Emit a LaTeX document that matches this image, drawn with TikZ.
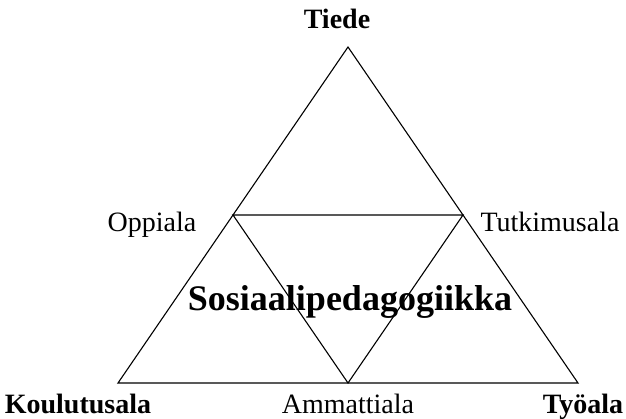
\documentclass[tikz,border=0pt]{standalone}
\usepackage{fontspec}
\setmainfont{Liberation Serif}
\usetikzlibrary{positioning}

\begin{document}
\begin{tikzpicture}[x=1pt, y=-1pt, line width=1.1pt,
    corner/.style={font=\fontsize{28}{30}\selectfont\bfseries, anchor=base},
    side/.style={font=\fontsize{28}{30}\selectfont, anchor=base},
    centre/.style={font=\fontsize{36}{40}\selectfont\bfseries, anchor=base}]
    \useasboundingbox (0,0) rectangle (626,418);

    % OUTER CORNERS
    \coordinate (TIEDE_POINT) at (348,47);
    \coordinate (KOULUTUS_POINT) at (118,383);
    \coordinate (TYO_POINT) at (578,383);

    % INNER CORNERS
    \coordinate (OPPI_POINT) at (233,215);
    \coordinate (TUTKIMUS_POINT) at (463,215);
    \coordinate (AMMATTI_POINT) at (348,383);

    % LABELS
    \node[corner] (TIEDE) at (337,28) {Tiede};
    \node[corner] (KOULUTUSALA) at (78,413) {Koulutusala};
    \node[side] (AMMATTIALA) at (348,413) {Ammattiala};
    \node[corner] (TYOALA) at (583,413) {Työala};
    \node[side] (OPPIALA) at (152,231) {Oppiala};
    \node[side] (TUTKIMUSALA) at (550,231) {Tutkimusala};
    \node[centre] (SOSIAALIPEDAGOGIIKKA) at (350,310) {Sosiaalipedagogiikka};

    % LINES
    \draw (TIEDE_POINT) -- (KOULUTUS_POINT) -- (TYO_POINT) -- cycle;
    \draw (OPPI_POINT) -- (TUTKIMUS_POINT) -- (AMMATTI_POINT) -- cycle;
\end{tikzpicture}
\end{document}
